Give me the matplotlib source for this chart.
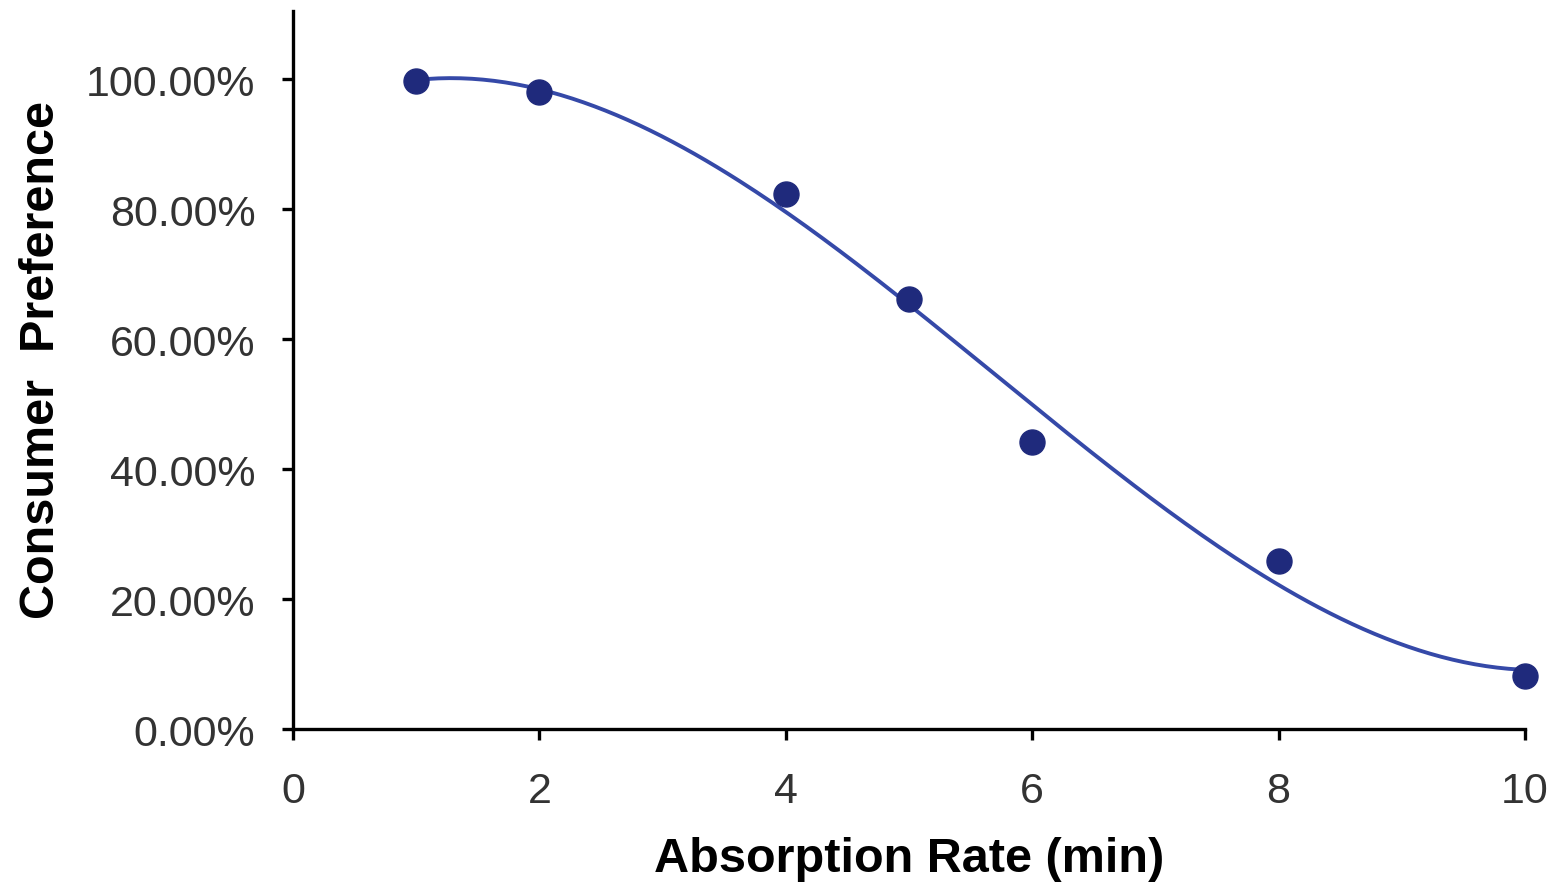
import numpy as np
import matplotlib.pyplot as plt
from matplotlib.ticker import PercentFormatter

# measured data (absorption time in minutes, preference as fraction)
absorption = [1, 2, 4, 5, 6, 8, 10]
preference = [0.997, 0.980, 0.823, 0.662, 0.442, 0.258, 0.082]

x_ticks = [0, 2, 4, 6, 8, 10]
y_ticks = [0.0, 0.2, 0.4, 0.6, 0.8, 1.0]

# polynomial trend line (order 3) fitted to the data, like the spreadsheet trendline
coef = np.polyfit(absorption, preference, 3)
xs = np.linspace(min(absorption), max(absorption), 200)
trend = np.polyval(coef, xs)

fig = plt.figure(figsize=(15.58, 8.87), dpi=100)
ax = fig.add_axes([0.188, 0.177, 0.7908, 0.8095])

ax.plot(xs, trend, color="#3549a8", lw=2.8, zorder=2)
ax.plot(absorption, preference, "o", color="#1f2a7c", ms=18, zorder=3,
        clip_on=False)

ax.set_xlim(0, 10)
ax.set_ylim(0, 1.105)
ax.set_xticks(x_ticks)
ax.set_yticks(y_ticks)
ax.yaxis.set_major_formatter(PercentFormatter(1.0, decimals=2))

for s in ["top", "right"]:
    ax.spines[s].set_visible(False)
for s in ["left", "bottom"]:
    ax.spines[s].set_linewidth(2.4)
ax.tick_params(width=2.4, length=8, labelsize=31, labelcolor="#333333",
               direction="out")
ax.tick_params(axis="x", pad=22)
ax.tick_params(axis="y", pad=19)
for lab in ax.get_xticklabels() + ax.get_yticklabels():
    lab.set_family("Liberation Sans")

ax.set_xlabel("Absorption Rate (min)", fontsize=35, fontweight="bold",
              family="Liberation Sans", labelpad=18)
ax.set_ylabel("Consumer  Preference", fontsize=35, fontweight="bold",
              family="Liberation Sans", labelpad=16)
ax.yaxis.label.set_y(0.515)

fig.savefig("out.png", dpi=100)
